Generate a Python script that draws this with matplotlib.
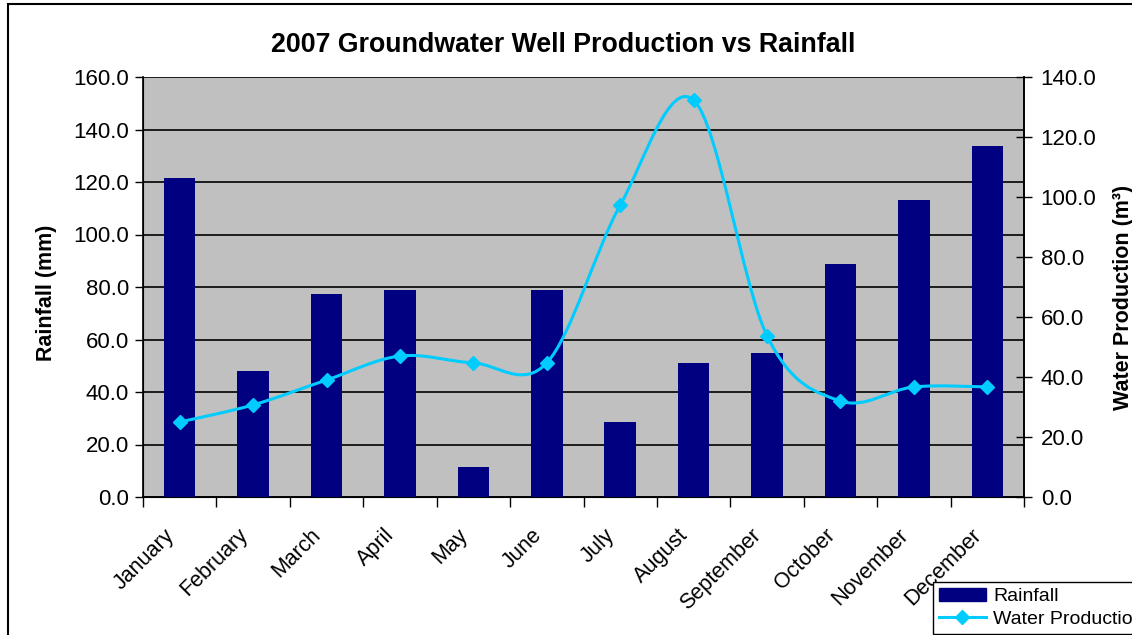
import matplotlib.pyplot as plt
import numpy as np
from matplotlib.patches import Rectangle, PathPatch
from matplotlib.path import Path
from matplotlib.lines import Line2D
from matplotlib.transforms import ScaledTranslation

months = ["January", "February", "March", "April", "May", "June", "July",
          "August", "September", "October", "November", "December"]
rainfall = [121.5, 48.0, 77.3, 78.9, 11.4, 78.9, 28.6, 51.0, 54.9, 88.8, 113.1, 133.7]
production = [25.0, 30.7, 39.0, 47.0, 44.7, 44.7, 97.3, 132.3, 53.7, 32.0, 36.7, 36.7]

NAVY = "#000080"
CYAN = "#00CCFF"
W, H = 1132, 635

plt.rcParams["font.family"] = ["Liberation Sans", "DejaVu Sans"]

fig = plt.figure(figsize=(W / 100, H / 100), dpi=100)
ax = fig.add_axes([143 / W, 1 - 497 / H, (1024 - 143) / W, (497 - 77) / H])
ax.set_facecolor("#C0C0C0")

x = np.arange(len(months))
ax.bar(x, rainfall, width=0.43, color=NAVY, zorder=3)
ax.set_xlim(-0.5, len(months) - 0.5)
ax.set_ylim(0, 160)
ax.set_yticks(np.arange(0, 161, 20))
ax.set_yticklabels([f"{v:.1f}" for v in np.arange(0, 161, 20)], fontsize=16)
ax.yaxis.grid(True, color="black", linewidth=1.2, zorder=1)
ax.set_axisbelow(True)
ax.tick_params(axis="y", direction="out", length=6, width=1, pad=4)

# month labels sit on minor ticks, boundary ticks are the major ones
ax.set_xticks(np.arange(len(months) + 1) - 0.5)
ax.set_xticklabels([])
ax.tick_params(axis="x", which="major", direction="out", length=7, width=1)
ax.set_xticks(x, minor=True)
ax.set_xticklabels(months, minor=True, rotation=45, ha="right",
                   rotation_mode="anchor", fontsize=15.5)
ax.tick_params(axis="x", which="minor", length=0, pad=12)
shift = ScaledTranslation(-16 / 100, -11 / 100, fig.dpi_scale_trans)
for lab in ax.get_xticklabels(minor=True):
    lab.set_transform(lab.get_transform() + shift)

for side in ["left", "bottom", "right"]:
    ax.spines[side].set_color("black")
    ax.spines[side].set_linewidth(1.2)
ax.spines["top"].set_visible(False)

ax2 = ax.twinx()
ax2.set_ylim(0, 140)
ax2.set_yticks(np.arange(0, 141, 20))
ax2.set_yticklabels([f"{v:.1f}" for v in np.arange(0, 141, 20)], fontsize=16)
ax2.tick_params(axis="y", direction="inout", length=12, width=1, pad=6)
ax2.spines["right"].set_linewidth(1.2)
ax2.spines["top"].set_visible(False)

# smoothed line (Catmull-Rom as Bezier segments)
px = x.astype(float)
py = np.asarray(production, dtype=float)
verts = [(px[0], py[0])]
codes = [Path.MOVETO]
n = len(px)
for i in range(n - 1):
    p0 = np.array([px[max(i - 1, 0)], py[max(i - 1, 0)]])
    p1 = np.array([px[i], py[i]])
    p2 = np.array([px[i + 1], py[i + 1]])
    p3 = np.array([px[min(i + 2, n - 1)], py[min(i + 2, n - 1)]])
    c1 = p1 + (p2 - p0) / 6
    c2 = p2 - (p3 - p1) / 6
    verts += [tuple(c1), tuple(c2), tuple(p2)]
    codes += [Path.CURVE4] * 3
ax2.add_patch(PathPatch(Path(verts, codes), facecolor="none", edgecolor=CYAN,
                        linewidth=2.2, zorder=4))
ax2.plot(px, py, linestyle="none", marker="D", markersize=7.5, color=CYAN, zorder=5)

fig.text(563 / W, 1 - 45 / H, "2007 Groundwater Well Production vs Rainfall",
         ha="center", va="center", fontsize=19.3, fontweight="bold")
fig.text(47 / W, 1 - 293 / H, "Rainfall (mm)", rotation=90, ha="center",
         va="center", fontsize=15.5, fontweight="bold")
fig.text(1123 / W, 1 - 297 / H, "Water Production (m³)", rotation=90,
         ha="center", va="center", fontsize=15.5, fontweight="bold")

# legend runs off the right edge, as in the source chart
handles = [Rectangle((0, 0), 1, 1, color=NAVY),
           Line2D([], [], color=CYAN, linewidth=2.2, marker="D", markersize=7)]
leg = fig.legend(handles, ["Rainfall", "Water Production"], loc="upper left",
                 bbox_to_anchor=(933 / W, 1 - 582 / H), fontsize=14,
                 frameon=True, fancybox=False, framealpha=1, edgecolor="black",
                 handlelength=2.4, handleheight=0.7, borderpad=0.3,
                 labelspacing=0.25, handletextpad=0.4, borderaxespad=0)
leg.get_frame().set_linewidth(1)

fig.patches.append(Rectangle((8 / W, -0.2), 1.2, 1 - 4 / H + 0.2,
                             transform=fig.transFigure, fill=False,
                             edgecolor="black", linewidth=1.5))

fig.savefig("out.png", dpi=100)
